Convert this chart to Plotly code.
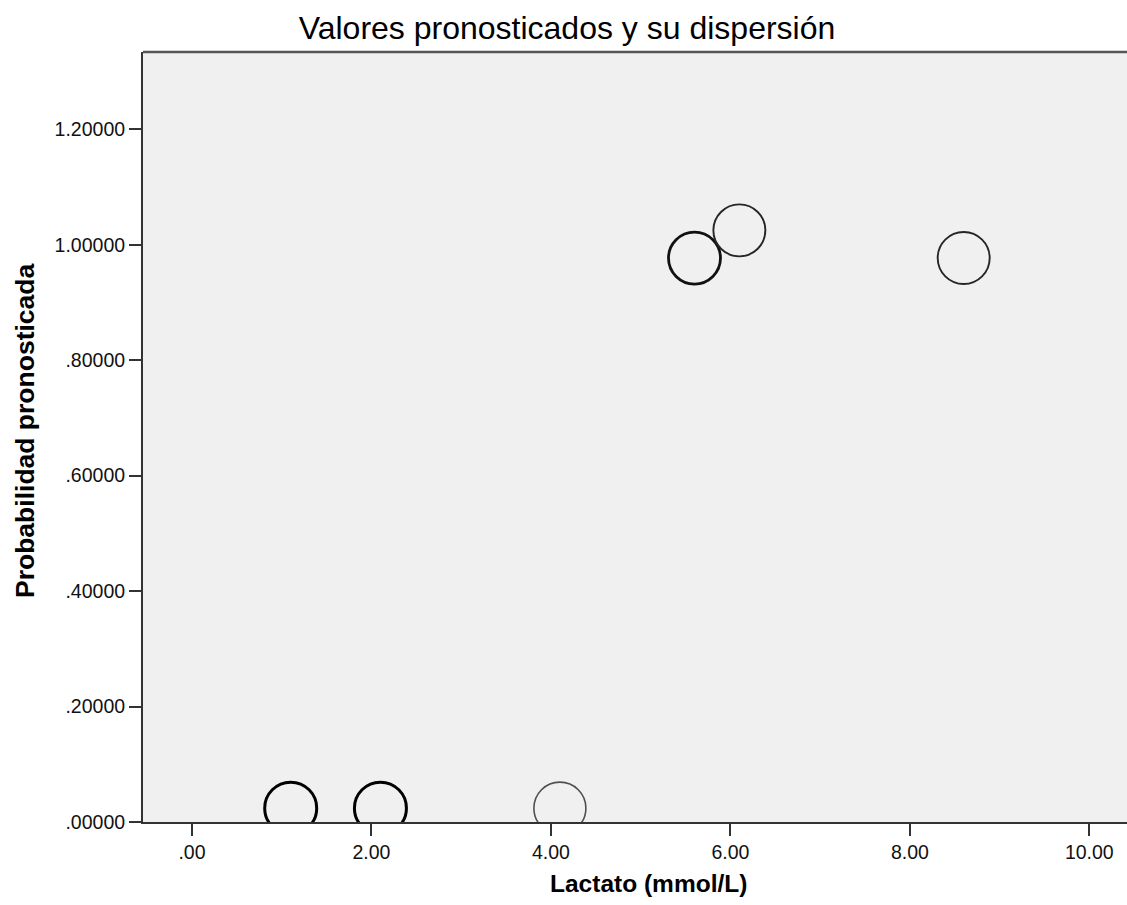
import plotly.graph_objects as go

# Data
lactato = [1.1, 2.1, 4.1, 5.6, 6.1, 8.6]
probabilidad = [0.024, 0.024, 0.024, 0.977, 1.025, 0.977]

x_ticks = [0, 2, 4, 6, 8, 10]
x_tick_labels = [".00", "2.00", "4.00", "6.00", "8.00", "10.00"]
y_ticks = [0, 0.2, 0.4, 0.6, 0.8, 1.0, 1.2]
y_tick_labels = [".00000", ".20000", ".40000", ".60000", ".80000", "1.00000", "1.20000"]

# styles (outline emphasis per point)
line_widths = [3.0, 3.0, 1.6, 2.8, 1.9, 1.9]
line_colors = ["#000000", "#000000", "#505050", "#111111", "#262626", "#262626"]

FONT = "Liberation Sans, Arial, sans-serif"
W, H = 1127, 905
L, R, T, B = 143, 0, 52, 83
PW, PH = W - L - R, H - T - B

fig = go.Figure()
for xv, yv, lw, lc in zip(lactato, probabilidad, line_widths, line_colors):
    fig.add_trace(go.Scatter(
        x=[xv], y=[yv], mode="markers",
        marker=dict(symbol="circle-open", size=52, color=lc,
                    line=dict(width=lw, color=lc)),
        cliponaxis=True, showlegend=False, hoverinfo="x+y",
    ))

fig.update_layout(
    width=W, height=H,
    margin=dict(l=L, r=R, t=T, b=B, pad=0),
    paper_bgcolor="white",
    plot_bgcolor="#F0F0F0",
    showlegend=False,
    title=dict(text="Valores pronosticados y su dispersión",
               x=567 / W, xref="container", xanchor="center",
               y=1 - 28 / H, yanchor="middle", yref="container",
               font=dict(family=FONT, size=32, color="#000000")),
    font=dict(family=FONT, color="#000000"),
)

fig.update_xaxes(
    range=[-0.546, 10.42],
    tickvals=x_ticks, ticktext=x_tick_labels,
    ticks="outside", ticklen=12, tickwidth=2, tickcolor="#333333",
    showline=True, linewidth=2, linecolor="#333333",
    showgrid=False, zeroline=False,
    tickfont=dict(family=FONT, size=19.5, color="#111111"),
)
fig.update_yaxes(
    range=[0, 1.334],
    tickvals=y_ticks, ticktext=y_tick_labels,
    ticks="outside", ticklen=12, tickwidth=2, tickcolor="#333333",
    showline=True, linewidth=2, linecolor="#333333",
    showgrid=False, zeroline=False,
    tickfont=dict(family=FONT, size=19.5, color="#111111"),
)

# top border of plot area
fig.add_shape(type="line", xref="paper", yref="paper", x0=0, x1=1, y0=1, y1=1,
              line=dict(color="#555555", width=2.5))

# axis titles as annotations positioned to match the reference
fig.add_annotation(text="<b>Lactato (mmol/L)</b>", xref="paper", yref="paper",
                   x=(648 - L) / PW, y=-(884 - (H - B)) / PH,
                   xanchor="center", yanchor="middle", showarrow=False,
                   font=dict(family=FONT, size=24.5, color="#000000"))
fig.add_annotation(text="<b>Probabilidad pronosticada</b>", xref="paper", yref="paper",
                   x=-(L - 25) / PW, y=((H - B) - 431) / PH,
                   xanchor="center", yanchor="middle", textangle=-90, showarrow=False,
                   font=dict(family=FONT, size=26.5, color="#000000"))

fig.write_html(
    "out.html",
    config={"displayModeBar": False},
    post_script="document.body.style.margin='0px';document.body.style.overflow='hidden';",
)
